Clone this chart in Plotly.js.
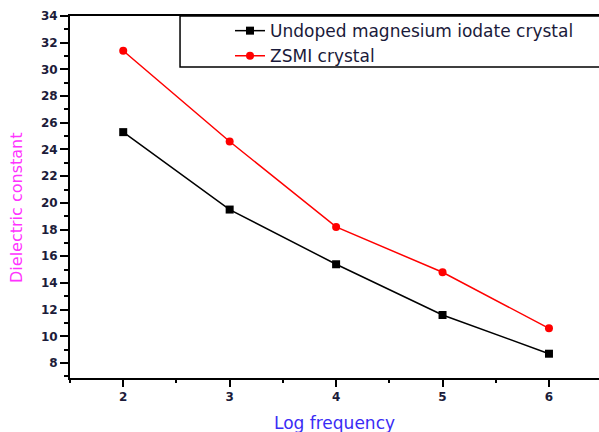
<!DOCTYPE html>
<html>
<head>
<meta charset="utf-8">
<script src="https://cdn.plot.ly/plotly-3.0.1.min.js"></script>
<style>html,body{margin:0;padding:0;background:#fff;}#chart{width:599px;height:432px;}</style>
</head>
<body>
<div id="chart"></div>
<script>
const logFrequency = [2, 3, 4, 5, 6];
const undopedValues = [25.3, 19.5, 15.4, 11.6, 8.7];
const zsmiValues = [31.4, 24.6, 18.2, 14.8, 10.6];
const seriesNames = ["Undoped magnesium iodate crystal", "ZSMI crystal"];
const yTickValues = [8, 10, 12, 14, 16, 18, 20, 22, 24, 26, 28, 30, 32, 34];
const xTickValues = [2, 3, 4, 5, 6];

const traces = [
  {
    x: logFrequency, y: undopedValues, name: seriesNames[0],
    type: 'scatter', mode: 'lines+markers',
    line: {color: '#000000', width: 1.5},
    marker: {symbol: 'square', size: 8, color: '#000000'}
  },
  {
    x: logFrequency, y: zsmiValues, name: seriesNames[1],
    type: 'scatter', mode: 'lines+markers',
    line: {color: '#ff0000', width: 1.5},
    marker: {symbol: 'circle', size: 8, color: '#ff0000'}
  }
];

const tickFont = {family: 'DejaVu Sans, Verdana, sans-serif', size: 12, color: '#1c1c3a', weight: 'bold'};

const layout = {
  width: 599, height: 432,
  margin: {l: 70, r: 0, t: 16, b: 54},
  paper_bgcolor: '#ffffff', plot_bgcolor: '#ffffff',
  showlegend: true,
  legend: {
    x: 0.3025, y: 1.008, xanchor: 'left', yanchor: 'top',
    bgcolor: 'rgba(0,0,0,0)', borderwidth: 0,
    font: {family: 'DejaVu Sans, Verdana, sans-serif', size: 17, color: '#1a1a3a'},
    tracegroupgap: 0, itemwidth: 30
  },
  xaxis: {
    range: [1.5, 6.47], showgrid: false, zeroline: false,
    showline: true, linecolor: '#000', linewidth: 2, mirror: true,
    ticks: 'outside', ticklen: 7, tickwidth: 2, tickcolor: '#000',
    tickvals: xTickValues, tickfont: tickFont,
    minor: {dtick: 0.5, tick0: 1.5, ticks: 'outside', ticklen: 3, tickwidth: 2, tickcolor: '#000'}
  },
  yaxis: {
    range: [6.88, 34], showgrid: false, zeroline: false,
    showline: true, linecolor: '#000', linewidth: 2,
    ticks: 'outside', ticklen: 8, tickwidth: 2, tickcolor: '#000',
    tickvals: yTickValues, tickfont: tickFont,
    minor: {dtick: 1, tick0: 7, ticks: 'outside', ticklen: 4, tickwidth: 2, tickcolor: '#000'}
  },
  shapes: [
    {type: 'rect', xref: 'paper', yref: 'paper', x0: 0.208, x1: 1.02, y0: 0.859, y1: 1.0,
     line: {color: '#000', width: 1.5}, fillcolor: 'rgba(0,0,0,0)'}
  ],
  annotations: [
    {text: 'Log frequency', xref: 'paper', yref: 'paper', x: 0.5, y: -0.125,
     xanchor: 'center', yanchor: 'middle', showarrow: false,
     font: {family: 'DejaVu Sans, Verdana, sans-serif', size: 17, color: '#3a2cf5'}},
    {text: 'Dielectric constant', xref: 'paper', yref: 'paper', x: -0.1, y: 0.47,
     xanchor: 'center', yanchor: 'middle', showarrow: false, textangle: -90,
     font: {family: 'DejaVu Sans, Verdana, sans-serif', size: 16, color: '#ff33ff'}}
  ]
};

Plotly.newPlot('chart', traces, layout, {displayModeBar: false, staticPlot: true});
</script>
</body>
</html>
